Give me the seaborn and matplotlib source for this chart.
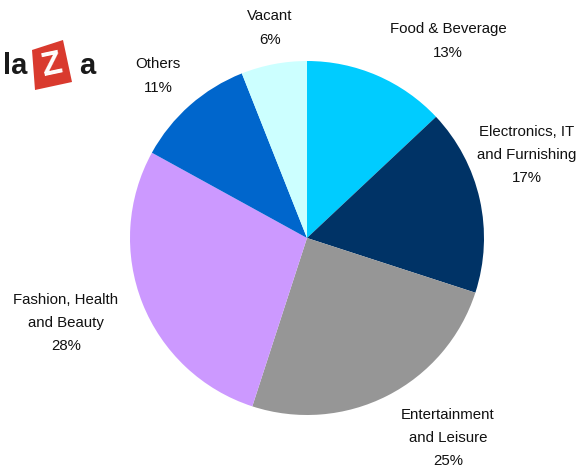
import matplotlib
matplotlib.use("Agg")
import matplotlib.pyplot as plt
import matplotlib.patches as mpatches
import seaborn as sns

# tenant mix data
categories = ["Food & Beverage", "Electronics, IT\nand Furnishing", "Entertainment\nand Leisure",
              "Fashion, Health\nand Beauty", "Others", "Vacant"]
shares = [13, 17, 25, 28, 11, 6]
colors = ["#00CCFF", "#003366", "#969696", "#CC99FF", "#0066CC", "#CCFFFF"]

# label anchor points in pixels (x, y from top)
label_pos = [(448, 41), (527, 155), (448, 438), (66, 323), (158, 76), (270, 28)]

sns.set_theme(style="white")
plt.rcParams["font.family"] = ["Liberation Sans", "DejaVu Sans"]

W, H = 586, 474
fig = plt.figure(figsize=(W / 100, H / 100), dpi=100)
ax = fig.add_axes([0, 0, 1, 1])

ax.pie(shares, colors=colors, startangle=90, counterclock=False,
       center=(307, H - 238), radius=177,
       wedgeprops={"linewidth": 0})
ax.set_xlim(0, W)
ax.set_ylim(0, H)
ax.set_aspect("equal")
ax.axis("off")

for cat, val, (x, y) in zip(categories, shares, label_pos):
    ax.text(x, H - y, f"{cat}\n{val}%", ha="center", va="center",
            fontsize=10.8, linespacing=1.85, color="#111111")

# partial logo in the top-left corner
ax.text(27, H - 74, "la", ha="right", va="baseline", fontsize=21,
        fontweight="bold", color="#1a1a1a")
corners = [(32, H - 50), (63, H - 40), (72, H - 82), (35, H - 90)]
ax.add_patch(mpatches.Polygon(corners, closed=True, color="#D93A2E", lw=0))
ax.text(52, H - 66, "Z", ha="center", va="center", fontsize=24,
        fontweight="bold", color="white", rotation=12)
ax.text(79, H - 74, "a", ha="left", va="baseline", fontsize=21,
        fontweight="bold", color="#1a1a1a")

fig.savefig("out.png", dpi=100)
